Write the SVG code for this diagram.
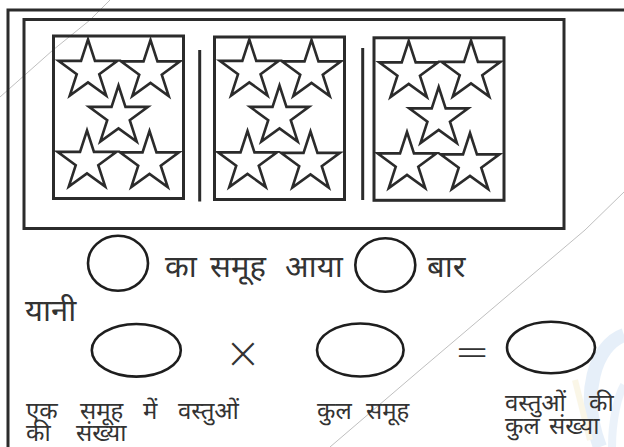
<svg xmlns="http://www.w3.org/2000/svg" width="624" height="447" viewBox="0 0 624 447">
<defs>
<path id="star" d="M0,-31 L6.96,-9.58 L29.48,-9.58 L11.26,3.66 L18.22,25.08 L0,11.84 L-18.22,25.08 L-11.26,3.66 L-29.48,-9.58 L-6.96,-9.58 Z"/>
<style>
.ln{fill:none;stroke:#2b2b2b;stroke-width:3}
.st{fill:#fff;stroke:#2b2b2b;stroke-width:2.6;stroke-linejoin:miter}
.ov{fill:none;stroke:#1e1e1e;stroke-width:2.6}
.t{font-family:"Noto Sans Devanagari","Lohit Devanagari","Noto Sans",sans-serif;fill:#333}
.big{font-size:31px}
.sm{font-size:24px}
.scan{fill:none;stroke:#b8b8b8;stroke-width:0.9}
.sym{font-family:"DejaVu Sans",sans-serif;font-weight:200;fill:#333;text-anchor:middle}
</style>
</defs>
<rect width="624" height="447" fill="#fff"/>
<g id="watermark" opacity="0.35">
<path d="M624,335 C595,345 580,395 600,447" fill="none" stroke="#b9d3ef" stroke-width="14"/>
<path d="M612,447 C612,420 618,395 624,385" fill="none" stroke="#c7dcf2" stroke-width="8"/>
<path d="M575,380 C580,400 585,420 590,440" fill="none" stroke="#f1e6bd" stroke-width="6"/>
</g>
<g id="scan-lines">
<path class="scan" d="M0,97 L53,50 L90,20 L110,0"/>
<path class="scan" d="M624,192 L585,230 L420,370 L330,447"/>
</g>
<g id="frame">
<path class="ln" d="M8,447 L8,10 L624,10"/>
<rect class="ln" x="24" y="19.5" width="540" height="209"/>
</g>
<g id="group1">
<rect class="ln" x="53.5" y="36" width="130" height="162.5"/>
<use href="#star" class="st" x="88" y="70.5"/>
<use href="#star" class="st" x="150.5" y="71"/>
<use href="#star" class="st" x="118.5" y="116.5"/>
<use href="#star" class="st" x="87" y="161.5"/>
<use href="#star" class="st" x="149.5" y="162"/>
</g>
<g id="sep1"><line class="ln" x1="199.7" y1="50" x2="199.7" y2="201.5"/></g>
<g id="group2">
<rect class="ln" x="214.5" y="37" width="130" height="162.5"/>
<use href="#star" class="st" x="249.3" y="70.5"/>
<use href="#star" class="st" x="311.5" y="71"/>
<use href="#star" class="st" x="279.5" y="116.5"/>
<use href="#star" class="st" x="247.5" y="162"/>
<use href="#star" class="st" x="310.5" y="162.5"/>
</g>
<g id="sep2"><line class="ln" x1="362.7" y1="48" x2="362.7" y2="200"/></g>
<g id="group3">
<rect class="ln" x="374" y="37.8" width="130" height="162.5"/>
<use href="#star" class="st" x="408.7" y="72"/>
<use href="#star" class="st" x="471" y="71.5"/>
<use href="#star" class="st" x="438.7" y="118"/>
<use href="#star" class="st" x="407" y="163"/>
<use href="#star" class="st" x="470" y="164"/>
</g>
<g id="sentence1">
<ellipse class="ov" cx="118" cy="263.3" rx="30" ry="27.5"/>
<text class="t big" y="277"><tspan x="165">का</tspan> <tspan x="210">समूह</tspan> <tspan x="285">आया</tspan></text>
<ellipse class="ov" cx="385.3" cy="265" rx="30" ry="26.7"/>
<text class="t big" x="427" y="277">बार</text>
</g>
<g id="yani"><text class="t big" x="25" y="321">यानी</text></g>
<g id="equation">
<ellipse class="ov" cx="136.3" cy="350.3" rx="44.5" ry="26.3"/>
<text class="sym" x="243" y="368" font-size="44">×</text>
<ellipse class="ov" cx="360.3" cy="350" rx="43.3" ry="26.5"/>
<text class="sym" x="472" y="366" font-size="42">=</text>
<ellipse class="ov" cx="551" cy="347.5" rx="44" ry="25.8"/>
</g>
<g id="labels">
<text class="t sm" y="419"><tspan x="26">एक</tspan> <tspan x="80">समूह</tspan> <tspan x="143">में</tspan> <tspan x="178">वस्तुओं</tspan></text>
<text class="t sm" y="441"><tspan x="26">की</tspan> <tspan x="76">संख्या</tspan></text>
<text class="t sm" y="419"><tspan x="317">कुल</tspan> <tspan x="366">समूह</tspan></text>
<text class="t sm" y="411"><tspan x="505">वस्तुओं</tspan> <tspan x="589">की</tspan></text>
<text class="t sm" y="434"><tspan x="505">कुल</tspan> <tspan x="549">संख्या</tspan></text>
</g>
</svg>
